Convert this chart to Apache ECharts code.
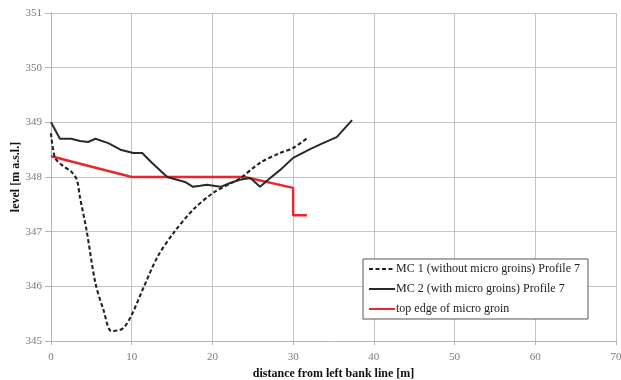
<!DOCTYPE html>
<html>
<head>
<meta charset="utf-8">
<script src="https://cdn.jsdelivr.net/npm/echarts@6/dist/echarts.min.js"></script>
<style>html,body{margin:0;padding:0;background:#fff}#c{width:621px;height:380px}</style>
</head>
<body>
<div id="c"></div>
<script>
// MC 1 (without micro groins) Profile 7 — [distance, level]
var mc1 = [
  [0, 348.80], [0.5, 348.35], [1.5, 348.20], [2.5, 348.10], [3.2, 347.95], [3.6, 347.62],
  [4.4, 347.03], [5.5, 346.06], [6.5, 345.57], [7.5, 345.18], [8.9, 345.23], [10.0, 345.48],
  [11.5, 345.99], [13.2, 346.54], [15.2, 346.98], [17.6, 347.40], [20.1, 347.71],
  [22.6, 347.91], [23.4, 347.97], [25.9, 348.26], [28.4, 348.44], [30.0, 348.53], [31.9, 348.73]
];
// MC 2 (with micro groins) Profile 7
var mc2 = [
  [0, 349.00], [1.1, 348.70], [2.5, 348.70], [3.6, 348.66], [4.6, 348.64], [5.5, 348.70],
  [7.1, 348.62], [8.6, 348.50], [10.2, 348.44], [11.3, 348.44], [12.5, 348.26], [14.4, 348.00],
  [16.6, 347.91], [17.6, 347.82], [18.5, 347.84], [19.3, 347.86], [21.0, 347.82], [22.2, 347.89],
  [23.4, 347.95], [24.7, 347.98], [25.9, 347.82], [26.9, 347.95], [28.4, 348.13], [30.0, 348.35],
  [32.1, 348.51], [33.7, 348.62], [35.4, 348.73], [37.3, 349.04]
];
// top edge of micro groin
var groin = [
  [0, 348.38], [10, 348.00], [24, 348.00], [30, 347.80], [30, 347.30], [31.7, 347.30]
];
var seriesNames = ['MC 1 (without micro groins) Profile 7', 'MC 2 (with micro groins) Profile 7', 'top edge of micro groin'];
var xTicks = {min: 0, max: 70, interval: 10};
var yTicks = {min: 345, max: 351, interval: 1};

var font = '"Liberation Serif", "DejaVu Serif", serif';
var chart = echarts.init(document.getElementById('c'), null, {renderer: 'canvas'});
chart.setOption({
  animation: false,
  backgroundColor: '#fff',
  grid: {left: 51, right: 5, top: 13, bottom: 39, containLabel: false, outerBoundsMode: 'none'},
  xAxis: {
    type: 'value', min: xTicks.min, max: xTicks.max, interval: xTicks.interval,
    name: 'distance from left bank line [m]', nameLocation: 'middle', nameGap: 27,
    nameMoveOverlap: false,
    nameTextStyle: {fontFamily: font, fontSize: 12, fontWeight: 'bold', color: '#111'},
    axisLine: {show: true, lineStyle: {color: '#b5b5b5', width: 1}},
    axisTick: {show: true, length: 4, lineStyle: {color: '#b5b5b5'}},
    axisLabel: {fontFamily: font, fontSize: 11, color: '#7a7a7a', margin: 11},
    splitLine: {show: true, lineStyle: {color: '#c4c4c4', width: 1}}
  },
  yAxis: {
    type: 'value', min: yTicks.min, max: yTicks.max, interval: yTicks.interval,
    name: 'level [m a.s.l.]', nameLocation: 'middle', nameGap: 29, nameRotate: 90,
    nameMoveOverlap: false,
    nameTextStyle: {fontFamily: font, fontSize: 12, fontWeight: 'bold', color: '#111'},
    axisLine: {show: true, lineStyle: {color: '#b5b5b5', width: 1}},
    axisTick: {show: true, length: 6, lineStyle: {color: '#b5b5b5'}},
    axisLabel: {fontFamily: font, fontSize: 11, color: '#7a7a7a', margin: 9},
    splitLine: {show: true, lineStyle: {color: '#c4c4c4', width: 1}}
  },
  legend: {
    orient: 'vertical', left: 363, top: 259, width: 214,
    padding: [4, 8, 4, 5], itemGap: 8, itemWidth: 26, itemHeight: 12,
    backgroundColor: '#fff', borderColor: '#555', borderWidth: 1,
    itemStyle: {opacity: 0},
    textStyle: {fontFamily: font, fontSize: 12, color: '#222', padding: [0, 0, 0, -4]},
    data: seriesNames
  },
  series: [
    {name: seriesNames[0], type: 'line', data: mc1, symbol: 'none', smooth: 0.3,
     lineStyle: {color: '#222', width: 2.1, type: [4, 2.5]}, itemStyle: {color: '#222'}, z: 3},
    {name: seriesNames[1], type: 'line', data: mc2, symbol: 'none',
     lineStyle: {color: '#2a2a2a', width: 2}, itemStyle: {color: '#2a2a2a'}, z: 4},
    {name: seriesNames[2], type: 'line', data: groin, symbol: 'none',
     lineStyle: {color: '#e8262b', width: 2.4}, itemStyle: {color: '#e8262b'}, z: 2}
  ]
});
</script>
</body>
</html>
